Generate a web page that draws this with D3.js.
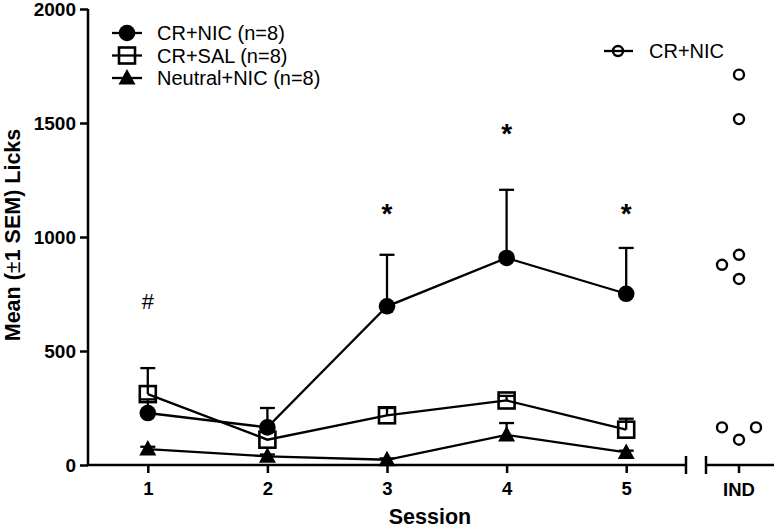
<!DOCTYPE html>
<html>
<head>
<meta charset="utf-8">
<script src="https://cdn.jsdelivr.net/npm/d3@7"></script>
<style>
  body { margin: 0; background: #fff; }
  svg { display: block; font-family: "Liberation Sans", Arial, sans-serif; }
</style>
</head>
<body>
<svg width="776" height="528"></svg>
<script>
// data
var sessions = [1, 2, 3, 4, 5];
var crNicMean = [228, 165, 696, 908, 751];
var crNicSem = [60, 85, 226, 299, 201];
var crSalMean = [311, 111, 218, 283, 155];
var crSalSem = [114, 0, 32, 20, 48];
var neutralMean = [70, 38, 23, 132, 55];
var neutralSem = [10, 8, 6, 52, 8];
var indValues = [1712, 1517, 922, 878, 816, 165, 111, 165];
var indSlot = [0, 0, 0, -1, 0, -1, 0, 1];
var yTicks = [0, 500, 1000, 1500, 2000];
var legendNames = ["CR+NIC (n=8)", "CR+SAL (n=8)", "Neutral+NIC (n=8)"];
var sigMarks = [{s: 1, label: "#", v: 684}, {s: 3, label: "*", v: 1063}, {s: 4, label: "*", v: 1412}, {s: 5, label: "*", v: 1063}];

var svg = d3.select("svg");

// scales
var x = d3.scaleLinear().domain([0.5, 5.5]).range([88, 686]);
var y = d3.scaleLinear().domain([0, 2000]).range([465, 9]);
var xInd = 739, slotW = 17;

// y axis
var yAxis = svg.append("g")
  .attr("transform", "translate(88,0)")
  .call(d3.axisLeft(y).tickValues(yTicks).tickSize(8).tickPadding(4).tickFormat(d3.format("d")));
yAxis.select(".domain").attr("stroke-width", 2.5).attr("d", "M0," + y(2000) + "V" + y(0));
yAxis.selectAll(".tick line").attr("stroke-width", 2.5);
yAxis.selectAll("text").attr("font-size", 19).attr("font-weight", "bold").attr("fill", "#000");

// x axis, first segment
var xAxis = svg.append("g")
  .attr("transform", "translate(0,465)")
  .call(d3.axisBottom(x).tickValues(sessions).tickSize(8).tickPadding(9).tickFormat(d3.format("d")));
xAxis.select(".domain").attr("stroke-width", 2.5).attr("d", "M87,0H686");
xAxis.selectAll(".tick line").attr("stroke-width", 2.5);
xAxis.selectAll("text").attr("font-size", 18.5).attr("font-weight", "bold").attr("fill", "#000");
xAxis.append("line").attr("x1", 686).attr("x2", 686).attr("y1", -9).attr("y2", 9)
  .attr("stroke", "#000").attr("stroke-width", 2.5);

// second segment (IND)
var ind = svg.append("g").attr("transform", "translate(0,465)");
ind.append("line").attr("x1", 706).attr("x2", 774).attr("y1", 0).attr("y2", 0)
  .attr("stroke", "#000").attr("stroke-width", 2.5);
ind.append("line").attr("x1", 706).attr("x2", 706).attr("y1", -9).attr("y2", 9)
  .attr("stroke", "#000").attr("stroke-width", 2.5);
ind.append("line").attr("x1", xInd).attr("x2", xInd).attr("y1", 0).attr("y2", 8)
  .attr("stroke", "#000").attr("stroke-width", 2.5);
ind.append("text").attr("x", xInd).attr("y", 30.5).attr("text-anchor", "middle")
  .attr("font-size", 18.5).attr("font-weight", "bold").text("IND");

// axis titles
svg.append("text").attr("x", 430).attr("y", 524).attr("text-anchor", "middle")
  .attr("font-size", 21.5).attr("font-weight", "bold").text("Session");
var yt = svg.append("text").attr("transform", "translate(20,235) rotate(-90)").attr("text-anchor", "middle")
  .attr("font-size", 21.5).attr("font-weight", "bold");
yt.append("tspan").text("Mean (");
yt.append("tspan").attr("font-weight", "normal").text("\u00b1");
yt.append("tspan").text("1 SEM) Licks");

// series
var series = [
  {mean: crSalMean, sem: crSalSem, shape: "square"},
  {mean: neutralMean, sem: neutralSem, shape: "triangle"},
  {mean: crNicMean, sem: crNicSem, shape: "circle"}
];

function marker(g, shape, cx, cy) {
  if (shape === "circle") {
    g.append("circle").attr("cx", cx).attr("cy", cy).attr("r", 8.3).attr("fill", "#000");
  } else if (shape === "square") {
    g.append("rect").attr("x", cx - 8).attr("y", cy - 8).attr("width", 16).attr("height", 16)
      .attr("fill", "none").attr("stroke", "#000").attr("stroke-width", 2.6);
  } else {
    g.append("path").attr("d", "M" + cx + "," + (cy - 9) + "L" + (cx + 8.5) + "," + (cy + 6.5) + "L" + (cx - 8.5) + "," + (cy + 6.5) + "Z")
      .attr("fill", "#000");
  }
}

var line = d3.line().x(function(d, i) { return x(sessions[i]); }).y(function(d) { return y(d); });

series.forEach(function(s) {
  var g = svg.append("g");
  g.append("path").attr("d", line(s.mean)).attr("fill", "none").attr("stroke", "#000").attr("stroke-width", 2.3);
  s.mean.forEach(function(m, i) {
    if (s.sem[i] > 0) {
      var cx = x(sessions[i]), top = y(m + s.sem[i]);
      g.append("line").attr("x1", cx).attr("x2", cx).attr("y1", y(m)).attr("y2", top)
        .attr("stroke", "#000").attr("stroke-width", 2.3);
      g.append("line").attr("x1", cx - 7.5).attr("x2", cx + 7.5).attr("y1", top).attr("y2", top)
        .attr("stroke", "#000").attr("stroke-width", 2.3);
    }
  });
  s.mean.forEach(function(m, i) { marker(g, s.shape, x(sessions[i]), y(m)); });
});

// individual values
svg.append("g").selectAll("circle")
  .data(indValues)
  .enter()
  .append("circle")
  .attr("cx", function(d, i) { return xInd + indSlot[i] * slotW; })
  .attr("cy", function(d) { return y(d); })
  .attr("r", 5)
  .attr("fill", "none")
  .attr("stroke", "#000")
  .attr("stroke-width", 2.4);

// significance marks
svg.append("g").selectAll("text")
  .data(sigMarks)
  .enter()
  .append("text")
  .attr("x", function(d) { return x(d.s); })
  .attr("y", function(d) { return y(d.v); })
  .attr("text-anchor", "middle")
  .attr("font-size", function(d) { return d.label === "#" ? 22 : 28; })
  .attr("font-weight", function(d) { return d.label === "#" ? "normal" : "bold"; })
  .text(function(d) { return d.label; });

// legend
var shapes = ["circle", "square", "triangle"];
var leg = svg.append("g");
legendNames.forEach(function(name, i) {
  var ly = 33 + i * 22.5;
  leg.append("line").attr("x1", 112).attr("x2", 142).attr("y1", ly).attr("y2", ly)
    .attr("stroke", "#000").attr("stroke-width", 2.3);
  marker(leg, shapes[i], 127, ly);
  leg.append("text").attr("x", 157).attr("y", ly + 7).attr("font-size", 20).text(name);
});
leg.append("line").attr("x1", 604).attr("x2", 633).attr("y1", 51).attr("y2", 51)
  .attr("stroke", "#000").attr("stroke-width", 2.3);
leg.append("circle").attr("cx", 618).attr("cy", 51).attr("r", 5).attr("fill", "none")
  .attr("stroke", "#000").attr("stroke-width", 2.4);
leg.append("text").attr("x", 649).attr("y", 58).attr("font-size", 20).text("CR+NIC");
</script>
</body>
</html>
